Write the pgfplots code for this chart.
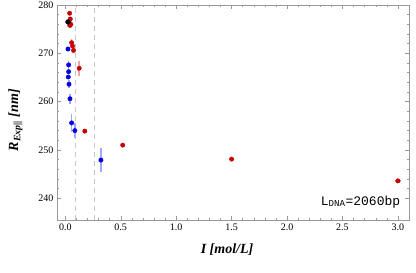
\documentclass[border=0pt]{standalone}
\usepackage{fontspec}
\setmainfont{Liberation Serif}
\setmonofont{Liberation Mono}
\usepackage{pgfplots}
\pgfplotsset{compat=1.18}
\definecolor{myred}{rgb}{0.78,0,0}
\definecolor{myblue}{rgb}{0,0,0.9}
\definecolor{framegray}{gray}{0.6}
\begin{document}
\begin{tikzpicture}
\begin{axis}[
  at={(0pt,0pt)}, anchor=south west,
  scale only axis,
  width=352pt, height=215pt,
  xmin=-0.075, xmax=3.1,
  ymin=235.5, ymax=280,
  xtick={0,0.5,...,3},
  ytick={240,250,...,280},
  minor x tick num=4,
  minor y tick num=4,
  tick pos=both,
  tick align=inside,
  major tick length=4pt,
  minor tick length=2.2pt,
  axis line style={framegray},
  every tick/.style={framegray},
  /pgf/number format/assume math mode=true,
  xticklabel style={font=\fontsize{10}{12}\selectfont, /pgf/number format/.cd, fixed, fixed zerofill, precision=1},
  yticklabel style={font=\fontsize{10}{12}\selectfont},
  xlabel={\bfseries\itshape I [mol/L]},
  ylabel={\bfseries\itshape R\textsubscript{Exp||} [nm]},
  xlabel style={font=\fontsize{14}{16}\selectfont, at={(axis description cs:0.483,-0.1395)}, anchor=center},
  ylabel style={font=\fontsize{14}{16}\selectfont, at={(axis description cs:-0.118,0.465)}, anchor=center},
  clip=false,
]
% dashed guide lines
\addplot[black!22, dash pattern=on 5pt off 4pt, line width=0.9pt] coordinates {(0.095,235.5) (0.095,280)};
\addplot[black!22, dash pattern=on 5pt off 4pt, line width=0.9pt] coordinates {(0.26,235.5) (0.26,280)};
% red series
\addplot[only marks, mark=*, mark size=2.2pt, color=myred,
  error bars/.cd, y dir=both, y explicit, x dir=both, x explicit,
  error bar style={myred!35, line width=1.6pt}, error mark=none]
coordinates {
 (0.039,278.3) +- (0,0.5)
 (0.045,277.1) +- (0,0.5)
 (0.050,276.0) +- (0,0.8)
 (0.040,275.8) +- (0,0.5)
 (0.057,272.2) +- (0,0.7)
 (0.065,271.5) +- (0,0.5)
 (0.074,270.6) +- (0,0.5)
 (0.125,266.9) +- (0,1.5)
 (0.176,253.9) +- (0,0.3)
 (0.518,251.0) +- (0,0.3)
 (1.5,248.1) +- (0,0.3)
 (3.0,243.6) +- (0.03,0.4)
};
% blue series
\addplot[only marks, mark=*, mark size=2.2pt, color=myblue,
  error bars/.cd, y dir=both, y explicit,
  error bar style={myblue!35, line width=1.6pt}, error mark=none]
coordinates {
 (0.024,270.9) +- (0,0.3)
 (0.030,267.6) +- (0,0.8)
 (0.030,266.2) +- (0,0.5)
 (0.027,265.1) +- (0,0.5)
 (0.033,263.6) +- (0,0.8)
 (0.042,260.6) +- (0,1.0)
 (0.057,255.6) +- (0,1.8)
 (0.086,254.0) +- (0,1.5)
 (0.321,247.9) +- (0,2.4)
};
% black point
\addplot[only marks, mark=*, mark size=2.4pt, color=black] coordinates {(0.024,276.5)};
\node[anchor=east, font=\ttfamily\fontsize{13}{15}\selectfont] at (rel axis cs:0.985,0.085) {L\textsubscript{DNA}=2060bp};
\end{axis}
\pgfresetboundingbox
\path (-57pt,-53pt) rectangle (359pt,220pt);
\end{tikzpicture}
\end{document}
